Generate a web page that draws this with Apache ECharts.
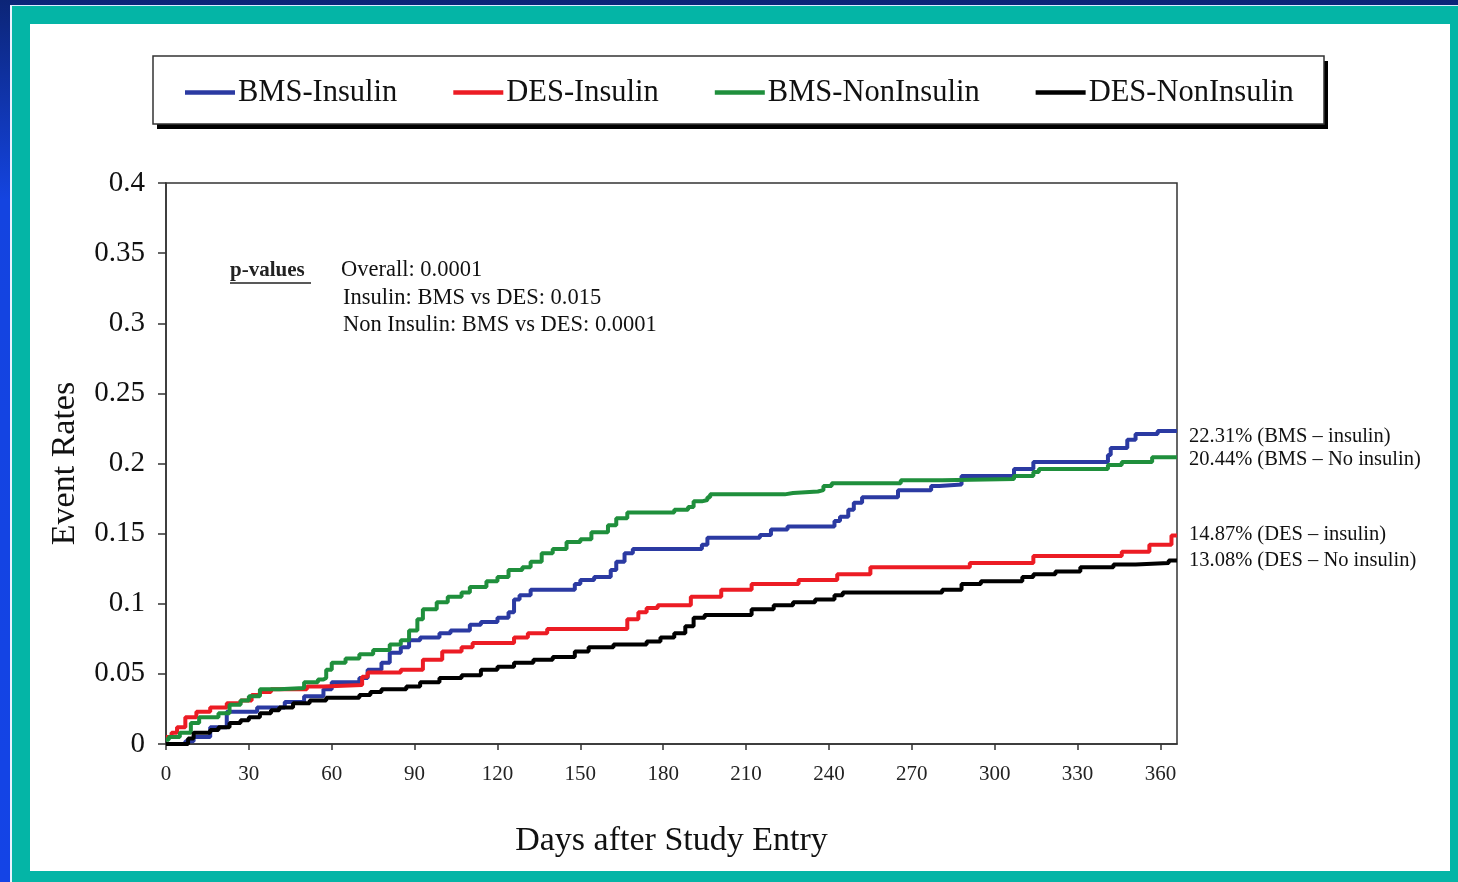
<!DOCTYPE html>
<html>
<head>
<meta charset="utf-8">
<script src="https://cdn.jsdelivr.net/npm/echarts@6/dist/echarts.min.js"></script>
<style>
  html, body { margin: 0; padding: 0; width: 1458px; height: 882px; overflow: hidden; }
  #bg { position: absolute; left: 0; top: 0; width: 1458px; height: 882px;
        background: linear-gradient(to bottom, #0c2577 0px, #0e2c8c 40px, #0f33a8 400px, #1238c0 882px); }
  #leftstrip { position: absolute; left: 0; top: 0; width: 10px; height: 882px;
        background: linear-gradient(to bottom, #0c2577, #1444e0 200px, #1444e6); }
  #frame { position: absolute; left: 10px; top: 5px; width: 1448px; height: 877px;
        background: #04b5a6; box-sizing: border-box; border-left: 2px solid #e8f4ff; border-top: 1px solid #d8ecff; }
  #inner { position: absolute; left: 30px; top: 24px; width: 1420px; height: 847px; background: #ffffff; }
  #chart { position: absolute; left: 0; top: 0; width: 1458px; height: 882px; }
</style>
</head>
<body>
<div id="bg"></div>
<div id="leftstrip"></div>
<div id="frame"></div>
<div id="inner"></div>
<div id="chart"></div>
<script>
// ---- data: [day, cumulative event rate] ----
const seriesNames = ['BMS-Insulin', 'DES-Insulin', 'BMS-NonInsulin', 'DES-NonInsulin'];
const seriesColors = ['#2b3aa2', '#ec1c24', '#1f8f3c', '#000000'];
const endLabels = ['22.31% (BMS \u2013 insulin)', '14.87% (DES \u2013 insulin)',
                   '20.44% (BMS \u2013 No insulin)', '13.08% (DES \u2013 No insulin)'];

const bmsInsulin = [[0,0],[7,0.002],[10,0.005],[16,0.012],[22,0.023],[33,0.026],[43,0.030],[50,0.034],
  [57,0.039],[60,0.044],[70,0.047],[73,0.053],[78,0.058],[81,0.065],[85,0.069],[88,0.074],[92,0.076],
  [99,0.079],[103,0.081],[110,0.085],[114,0.087],[120,0.090],[124,0.094],[126,0.103],[128,0.106],
  [132,0.110],[148,0.114],[150,0.117],[155,0.119],[161,0.124],[163,0.130],[166,0.136],[169,0.139],
  [194,0.142],[196,0.147],[215,0.149],[219,0.153],[225,0.155],[242,0.159],[244,0.162],[247,0.167],
  [249,0.172],[252,0.176],[265,0.181],[277,0.184],[280,0.185],[288,0.191],[307,0.196],[314,0.201],
  [341,0.206],[342,0.211],[348,0.217],[351,0.221],[359,0.2231],[366,0.2231]];

const desInsulin = [[0,0.005],[2,0.008],[4,0.012],[7,0.019],[11,0.023],[16,0.026],[22,0.029],[27,0.031],
  [31,0.035],[34,0.037],[38,0.039],[51,0.041],[57,0.042],[71,0.048],[73,0.051],[85,0.053],[93,0.060],
  [100,0.066],[107,0.069],[111,0.072],[126,0.076],[131,0.079],[138,0.082],[167,0.089],[171,0.094],
  [174,0.097],[178,0.099],[190,0.105],[201,0.110],[212,0.114],[229,0.117],[243,0.121],[255,0.126],
  [291,0.129],[314,0.134],[346,0.137],[356,0.142],[364,0.1487],[366,0.1487]];

const bmsNonInsulin = [[0,0.003],[1,0.005],[5,0.008],[9,0.015],[12,0.019],[19,0.022],[23,0.028],[27,0.031],
  [30,0.034],[34,0.039],[41,0.040],[50,0.044],[55,0.046],[57,0.047],[58,0.053],[60,0.058],[65,0.061],
  [70,0.064],[75,0.067],[81,0.071],[85,0.074],[88,0.081],[91,0.089],[93,0.096],[98,0.101],[102,0.105],
  [107,0.108],[110,0.112],[116,0.116],[120,0.119],[124,0.124],[129,0.126],[132,0.130],[136,0.136],
  [140,0.139],[145,0.144],[150,0.146],[154,0.151],[160,0.156],[163,0.161],[167,0.165],[184,0.167],
  [189,0.169],[191,0.173],[194,0.174],[196,0.176],[197,0.178],[224,0.179],[227,0.180],[236,0.181],
  [238,0.184],[241,0.186],[266,0.188],[281,0.189],[307,0.191],[314,0.194],[316,0.196],[341,0.199],
  [346,0.201],[357,0.2044],[366,0.2044]];

const desNonInsulin = [[0,0],[8,0.004],[10,0.008],[16,0.010],[19,0.012],[23,0.015],[27,0.017],[30,0.019],
  [34,0.022],[38,0.024],[41,0.026],[46,0.029],[52,0.031],[58,0.033],[70,0.035],[74,0.037],[78,0.039],
  [87,0.041],[92,0.044],[99,0.047],[107,0.049],[114,0.053],[120,0.055],[126,0.058],[133,0.060],
  [140,0.062],[148,0.066],[153,0.069],[162,0.071],[174,0.073],[179,0.076],[184,0.079],[188,0.084],
  [191,0.090],[195,0.092],[212,0.096],[220,0.099],[227,0.101],[235,0.103],[242,0.106],[245,0.108],
  [281,0.110],[288,0.114],[295,0.116],[310,0.119],[314,0.121],[322,0.123],[331,0.126],[343,0.128],
  [351,0.129],[363,0.1308],[366,0.1308]];

const seriesData = [bmsInsulin, desInsulin, bmsNonInsulin, desNonInsulin];
const endLabelOffsets = [6, -1, 2, 0];

const pValueTitle = 'p-values';
const pValueLines = ['Overall: 0.0001', 'Insulin: BMS vs DES: 0.015', 'Non Insulin: BMS vs DES: 0.0001'];

const xMin = 0, xMax = 366, xInterval = 30;
const yMin = 0, yMax = 0.4, yInterval = 0.05;

const SERIF = '"Liberation Serif", "Times New Roman", "DejaVu Serif", serif';

const chart = echarts.init(document.getElementById('chart'), null, { renderer: 'canvas' });

const series = seriesNames.map((name, i) => ({
  name: name,
  type: 'line',
  step: 'end',
  data: seriesData[i],
  showSymbol: false,
  symbol: 'none',
  lineStyle: { color: seriesColors[i], width: 4 },
  itemStyle: { color: seriesColors[i] },
  z: 3 + i,
  endLabel: {
    show: true,
    formatter: () => endLabels[i],
    color: '#111',
    fontFamily: SERIF,
    fontSize: 20.5,
    distance: 12,
    offset: [0, endLabelOffsets[i]]
  }
}));

const graphics = [
  { type: 'rect', z: 0, shape: { x: 157, y: 61, width: 1171, height: 68 },
    style: { fill: '#000000' } },
  { type: 'rect', z: 1, shape: { x: 153, y: 56, width: 1171, height: 68 },
    style: { fill: '#ffffff', stroke: '#333', lineWidth: 1.5 } },
  { type: 'text', left: 230, top: 260, z: 10,
    style: { text: pValueTitle, font: 'bold 21px ' + SERIF, fill: '#222' } },
  { type: 'line', z: 10, shape: { x1: 230, y1: 283, x2: 311, y2: 283 },
    style: { stroke: '#222', lineWidth: 1.5 } }
];
pValueLines.forEach((t, k) => {
  graphics.push({ type: 'text', left: 341 + (k > 0 ? 2 : 0), top: 259 + k * 27.5, z: 10,
    style: { text: t, font: '22.5px ' + SERIF, fill: '#111' } });
});

chart.setOption({
  animation: false,
  backgroundColor: 'transparent',
  textStyle: { fontFamily: SERIF },
  grid: { left: 166, top: 183, width: 1011, height: 561, show: true,
          borderColor: '#333', borderWidth: 1.5, backgroundColor: 'transparent' },
  legend: {
    data: seriesNames,
    left: 180, top: 72,
    icon: 'rect', itemWidth: 50, itemHeight: 4.5, itemGap: 56,
    textStyle: { fontFamily: SERIF, fontSize: 30.5, color: '#111', padding: [0, 0, 0, -2] },
    z: 5
  },
  xAxis: {
    type: 'value', min: xMin, max: xMax, interval: xInterval,
    name: 'Days after Study Entry', nameLocation: 'middle', nameGap: 80,
    nameTextStyle: { fontFamily: SERIF, fontSize: 34, color: '#111' },
    axisLine: { show: true, lineStyle: { color: '#333', width: 1.5 } },
    axisTick: { show: true, length: 6, lineStyle: { color: '#333', width: 1.5 } },
    axisLabel: { fontFamily: SERIF, fontSize: 21, color: '#222', margin: 20, showMaxLabel: false },
    splitLine: { show: false }
  },
  yAxis: {
    type: 'value', min: yMin, max: yMax, interval: yInterval,
    name: 'Event Rates', nameLocation: 'middle', nameGap: 84, nameRotate: 90,
    nameTextStyle: { fontFamily: SERIF, fontSize: 34, color: '#111' },
    axisLine: { show: true, lineStyle: { color: '#333', width: 1.5 } },
    axisTick: { show: true, length: 8, lineStyle: { color: '#333', width: 1.5 } },
    axisLabel: { fontFamily: SERIF, fontSize: 29, color: '#111', margin: 21,
                 formatter: v => String(+v.toFixed(2)) },
    splitLine: { show: false }
  },
  graphic: graphics,
  series: series
});
</script>
</body>
</html>
